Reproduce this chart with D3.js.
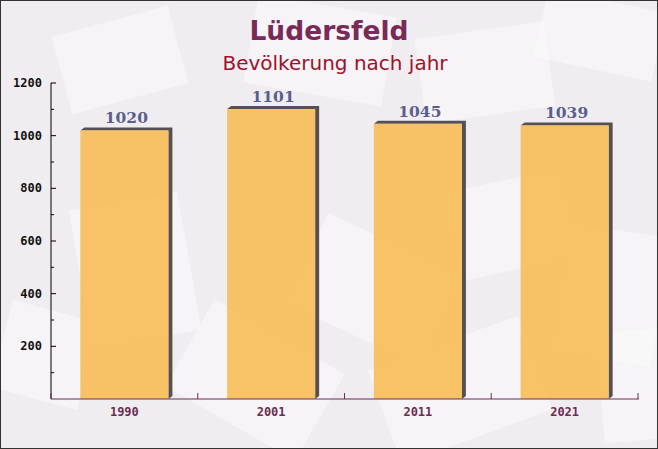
<!DOCTYPE html>
<html><head><meta charset="utf-8">
<script src="https://cdn.jsdelivr.net/npm/d3@7"></script>
<style>body{margin:0;background:#fff}svg{display:block}</style>
</head><body>
<script>
const years = ["1990","2001","2011","2021"];
const population = [1020,1101,1045,1039];
const yTicks = [200,400,600,800,1000,1200];
const title = "Lüdersfeld";
const subtitle = "Bevölkerung nach jahr";

const W=658,H=449;
const svg=d3.select("body").append("svg").attr("width",W).attr("height",H);
svg.append("rect").attr("x",0).attr("y",0).attr("width",W).attr("height",H).attr("fill","#f0edf0");

// faint decorative envelopes
const env=[[60,20,120,80,-15],[250,5,140,90,10],[420,30,130,85,-8],[540,0,120,70,12],[80,200,110,140,-10],[300,240,150,100,25],[450,180,120,90,-12],[560,230,100,130,8],[180,330,150,100,30],[380,340,160,100,-20],[0,310,90,90,15],[600,330,80,110,-5]];
svg.append("g").selectAll("rect").data(env).join("rect")
  .attr("x",d=>d[0]).attr("y",d=>d[1]).attr("width",d=>d[2]).attr("height",d=>d[3])
  .attr("transform",d=>`rotate(${d[4]},${d[0]+d[2]/2},${d[1]+d[3]/2})`)
  .attr("fill","#ffffff").attr("opacity",0.4);

const x=d3.scaleBand().domain(years).range([51,638]).paddingInner(0.4).paddingOuter(0.2);
const y=d3.scaleLinear().domain([0,1200]).range([399,83]);

// bars with 3d shadow
const dx=4,dy=3;
const g=svg.append("g");
years.forEach((yr,i)=>{
  const x0=x(yr),bw=x.bandwidth(),yt=y(population[i]),yb=y(0);
  g.append("path").attr("d",`M${x0},${yt} L${x0+dx},${yt-dy} L${x0+bw+dx},${yt-dy} L${x0+bw+dx},${yb-dy} L${x0+bw},${yb} L${x0+bw},${yt} Z`)
    .attr("fill","#555052");
  g.append("rect").attr("x",x0).attr("y",yt).attr("width",bw).attr("height",yb-yt)
    .attr("fill","#f7bd5a").attr("fill-opacity",0.93);
  g.append("text").attr("x",x0+bw/2+2).attr("y",yt-7).attr("text-anchor","middle")
    .attr("font-family","DejaVu Serif").attr("font-weight","bold").attr("font-size",15.5)
    .attr("fill","#5a5e8e").text(population[i]);
});

// y axis
const ya=svg.append("g");
ya.append("line").attr("x1",51).attr("x2",51).attr("y1",83).attr("y2",399).attr("stroke","#000");
d3.range(100,1300,100).forEach(v=>{
  const major=v%200===0;
  ya.append("line").attr("x1",51).attr("x2",major?56:54).attr("y1",y(v)).attr("y2",y(v)).attr("stroke","#000");
});
ya.selectAll("text").data(yTicks).join("text").attr("x",42).attr("y",d=>y(d)+4).attr("text-anchor","end")
  .attr("font-family","DejaVu Sans Mono").attr("font-weight","bold").attr("font-size",12).attr("fill","#111").text(d=>d);

// x axis
const xa=svg.append("g");
xa.append("line").attr("x1",51).attr("x2",639).attr("y1",399).attr("y2",399).attr("stroke","#6b2d52");
[0,1,2,3,4].forEach(i=>{
  const xx=51+i*(587/4);
  xa.append("line").attr("x1",xx).attr("x2",xx).attr("y1",399).attr("y2",393).attr("stroke","#6b2d52");
});
xa.selectAll("text").data(years).join("text").attr("x",d=>x(d)+x.bandwidth()/2).attr("y",416).attr("text-anchor","middle")
  .attr("font-family","DejaVu Sans Mono").attr("font-weight","bold").attr("font-size",12).attr("fill","#6b2d52").text(d=>d);

svg.append("text").attr("x",329).attr("y",40).attr("text-anchor","middle").attr("font-family","DejaVu Sans")
  .attr("font-weight","bold").attr("font-size",26.5).attr("fill","#7a2a58").text(title);
svg.append("text").attr("x",335).attr("y",70).attr("text-anchor","middle").attr("font-family","DejaVu Sans")
  .attr("font-size",20).attr("fill","#a0102a").text(subtitle);

svg.append("rect").attr("x",0.5).attr("y",0.5).attr("width",W-1).attr("height",H-1).attr("fill","none").attr("stroke","#333");
</script>
</body></html>
